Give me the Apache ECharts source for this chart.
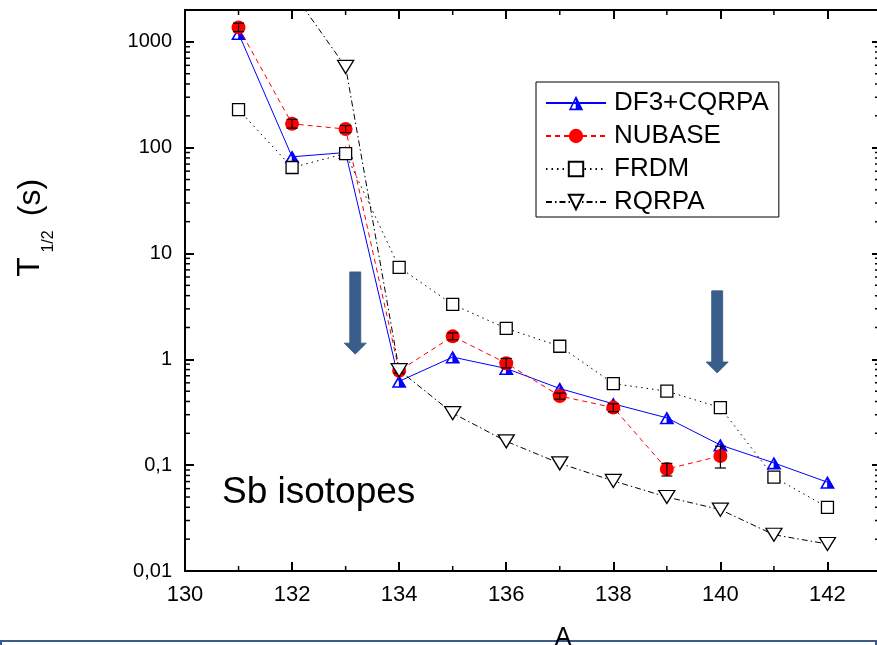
<!DOCTYPE html>
<html>
<head>
<meta charset="utf-8">
<script src="https://cdn.jsdelivr.net/npm/echarts@6/dist/echarts.min.js"></script>
<style>
  html, body { margin: 0; padding: 0; background: #ffffff; }
  #chart { width: 877px; height: 645px; }
</style>
</head>
<body>
<div id="chart"></div>
<script>
// Half-lives of Sb isotopes versus mass number A
const massNumbers = [131, 132, 133, 134, 135, 136, 137, 138, 139, 140, 141, 142];
const df3Cqrpa    = [1200, 82, 90, 0.62, 1.05, 0.82, 0.53, 0.38, 0.28, 0.155, 0.105, 0.069];
const nubaseA     = [131, 132, 133, 134, 135, 136, 137, 138, 139, 140];
const nubase      = [1370, 168, 150, 0.78, 1.65, 0.92, 0.45, 0.35, 0.092, 0.122];
const nubaseLow   = [1250, 153, 139, 0.74, 1.53, 0.83, 0.42, 0.32, 0.079, 0.094];
const nubaseHigh  = [1500, 185, 162, 0.82, 1.78, 1.02, 0.48, 0.38, 0.104, 0.151];
const frdm        = [229, 65, 88, 7.4, 3.3, 1.96, 1.33, 0.59, 0.50, 0.35, 0.077, 0.040];
const rqrpa       = [6000, 3000, 580, 0.79, 0.31, 0.168, 0.104, 0.071, 0.050, 0.038, 0.022, 0.018];

const seriesNames = ['DF3+CQRPA', 'NUBASE', 'FRDM', 'RQRPA'];

// axis ranges and tick labels
const xMin = 130, xMax = 143;
const yMin = 0.01, yMax = 2000;
const xTickLabels = [130, 132, 134, 136, 138, 140, 142];
const yTickLabels = ['0,01', '0,1', '1', '10', '100', '1000'];
const decades = [0.01, 0.1, 1, 10, 100, 1000];
const minorMultipliers = [2, 3, 4, 5, 6, 7, 8, 9];
const oddMass = [131, 133, 135, 137, 139, 141];

// downward arrows marking A = 133 and A = 140
const arrowX    = [133.18, 139.94];
const arrowFrom = [6.7, 4.44];
const arrowTo   = [1.12, 0.743];

const FONT = '"Liberation Sans", Arial, Helvetica, sans-serif';

const pairs = (xs, ys) => xs.map((x, i) => [x, ys[i]]);

const minorY = [];
decades.forEach(d => minorMultipliers.forEach(m => {
  const v = d * m;
  if (v < yMax) minorY.push(v);
}));

// half-filled triangle: outline on the left half, solid right half
const halfTriangle = 'path://M50,0 L100,100 L0,100 Z M48,28 L18,88 L48,88 Z';

const chart = echarts.init(document.getElementById('chart'), null, { renderer: 'canvas' });

const axisLine = { show: true, lineStyle: { color: '#000', width: 2 } };

chart.setOption({
  animation: false,
  backgroundColor: '#ffffff',
  grid: { left: 185, right: -4, top: 10, bottom: 74, outerBoundsMode: 'none' },
  legend: {
    orient: 'vertical',
    left: 536,
    top: 82,
    padding: [8, 10, 2, 9],
    itemWidth: 60,
    itemHeight: 18,
    itemGap: 7,
    borderColor: '#000',
    borderWidth: 1,
    selectedMode: false,
    textStyle: { fontFamily: FONT, fontSize: 26, color: '#000', padding: [0, 0, 0, 3] },
    data: seriesNames
  },
  xAxis: [
    {
      type: 'value', min: xMin, max: xMax, interval: 2,
      axisLine: axisLine,
      axisTick: { show: true, inside: true, length: 9, lineStyle: { color: '#000', width: 2 } },
      splitLine: { show: false },
      axisLabel: {
        show: true, margin: 13, color: '#000', fontFamily: FONT, fontSize: 22,
        formatter: v => (xTickLabels.indexOf(Math.round(v)) >= 0 && Math.abs(v - Math.round(v)) < 1e-6) ? String(Math.round(v)) : ''
      }
    },
    {
      type: 'value', position: 'top', min: xMin, max: xMax, interval: 2,
      axisLine: axisLine,
      axisTick: { show: true, inside: true, length: 9, lineStyle: { color: '#000', width: 2 } },
      splitLine: { show: false },
      axisLabel: { show: false }
    }
  ],
  yAxis: [
    {
      type: 'log', logBase: 10, min: yMin, max: yMax,
      axisLine: axisLine,
      axisTick: { show: true, inside: true, length: 9, lineStyle: { color: '#000', width: 2 } },
      splitLine: { show: false },
      axisLabel: {
        show: true, margin: 13, color: '#000', fontFamily: FONT, fontSize: 20,
        formatter: v => {
          const e = Math.log10(v);
          const r = Math.round(e);
          return Math.abs(e - r) < 1e-6 ? (yTickLabels[r + 2] || '') : '';
        }
      }
    },
    {
      type: 'log', logBase: 10, min: yMin, max: yMax, position: 'right',
      axisLine: axisLine,
      axisTick: { show: true, inside: true, length: 9, lineStyle: { color: '#000', width: 2 } },
      splitLine: { show: false },
      axisLabel: { show: false }
    }
  ],
  series: [
    {
      name: 'DF3+CQRPA', type: 'line',
      data: pairs(massNumbers, df3Cqrpa),
      symbol: halfTriangle, symbolSize: [15, 13],
      lineStyle: { color: '#0000ff', width: 1, type: 'solid' },
      itemStyle: { color: '#0000ff', borderWidth: 0 },
      z: 2
    },
    {
      name: 'NUBASE', type: 'line',
      data: pairs(nubaseA, nubase),
      symbol: 'circle', symbolSize: 14,
      lineStyle: { color: '#ff0000', width: 1, type: [5, 4] },
      itemStyle: { color: '#ff0000', borderWidth: 0 },
      z: 3
    },
    {
      name: 'NUBASE errors', type: 'custom',
      data: nubaseA.map((a, i) => [a, nubaseLow[i], nubaseHigh[i]]),
      encode: { x: 0, y: [1, 2] },
      silent: true,
      z: 4,
      renderItem: (params, api) => {
        const lo = api.coord([api.value(0), api.value(1)]);
        const hi = api.coord([api.value(0), api.value(2)]);
        const cap = 5.5;
        const st = { stroke: '#000', lineWidth: 1.2 };
        return {
          type: 'group',
          children: [
            { type: 'line', shape: { x1: lo[0], y1: lo[1], x2: hi[0], y2: hi[1] }, style: st },
            { type: 'line', shape: { x1: lo[0] - cap, y1: lo[1], x2: lo[0] + cap, y2: lo[1] }, style: st },
            { type: 'line', shape: { x1: hi[0] - cap, y1: hi[1], x2: hi[0] + cap, y2: hi[1] }, style: st }
          ]
        };
      }
    },
    {
      name: 'FRDM', type: 'line',
      data: pairs(massNumbers, frdm),
      symbol: 'rect', symbolSize: 12,
      lineStyle: { color: '#000', width: 1, type: [1.5, 4] },
      itemStyle: { color: '#ffffff', borderColor: '#000', borderWidth: 1.3 },
      z: 5
    },
    {
      name: 'RQRPA', type: 'line',
      data: pairs(massNumbers, rqrpa),
      symbol: 'triangle', symbolSize: [16, 13], symbolRotate: 180,
      lineStyle: { color: '#000', width: 1, type: [6, 3, 1.5, 3] },
      itemStyle: { color: '#ffffff', borderColor: '#000', borderWidth: 1.3 },
      z: 6
    },
    {
      name: 'minor y ticks', type: 'custom',
      data: minorY.map(v => [xMin, v]),
      encode: { x: 0, y: 1 },
      silent: true, clip: false, z: 7,
      renderItem: (params, api) => {
        const l = api.coord([xMin, api.value(1)]);
        const r = api.coord([xMax, api.value(1)]);
        const st = { stroke: '#000', lineWidth: 1.5 };
        return {
          type: 'group',
          children: [
            { type: 'line', shape: { x1: l[0], y1: l[1], x2: l[0] + 5, y2: l[1] }, style: st },
            { type: 'line', shape: { x1: r[0] - 6, y1: r[1], x2: r[0], y2: r[1] }, style: st }
          ]
        };
      }
    },
    {
      name: 'minor x ticks', type: 'custom',
      data: oddMass.map(a => [a, yMin]),
      encode: { x: 0, y: 1 },
      silent: true, clip: false, z: 7,
      renderItem: (params, api) => {
        const b = api.coord([api.value(0), yMin]);
        const t = api.coord([api.value(0), yMax]);
        const st = { stroke: '#000', lineWidth: 1.5 };
        return {
          type: 'group',
          children: [
            { type: 'line', shape: { x1: b[0], y1: b[1], x2: b[0], y2: b[1] - 5 }, style: st },
            { type: 'line', shape: { x1: t[0], y1: t[1], x2: t[0], y2: t[1] + 5 }, style: st }
          ]
        };
      }
    },
    {
      name: 'arrows', type: 'custom',
      data: arrowX.map((x, i) => [x, arrowFrom[i], arrowTo[i]]),
      encode: { x: 0, y: [1, 2] },
      silent: true, z: 8,
      renderItem: (params, api) => {
        const top = api.coord([api.value(0), api.value(1)]);
        const tip = api.coord([api.value(0), api.value(2)]);
        const cx = tip[0];
        const sw = 5.5, hw = 11, hl = 11;
        const neck = tip[1] - hl;
        return {
          type: 'polygon',
          shape: {
            points: [
              [cx - sw, top[1]], [cx + sw, top[1]], [cx + sw, neck], [cx + hw, neck],
              [cx, tip[1]], [cx - hw, neck], [cx - sw, neck]
            ]
          },
          style: { fill: '#3a5e8c', stroke: '#34557f', lineWidth: 0.8 }
        };
      }
    }
  ],
  graphic: [
    {
      type: 'rect', z: 100,
      shape: { x: 1, y: 641, width: 875, height: 30 },
      style: { fill: '#ffffff', stroke: '#3a5a88', lineWidth: 2 }
    },
    {
      type: 'text', z: 101, x: 563, y: 638,
      style: { text: 'A', fontFamily: FONT, fontSize: 25, fill: '#000', align: 'center', verticalAlign: 'middle' }
    },
    {
      type: 'text', z: 101, x: 222, y: 493,
      style: { text: 'Sb isotopes', fontFamily: FONT, fontSize: 37, fill: '#000', align: 'left', verticalAlign: 'middle' }
    },
    {
      type: 'text', z: 101, x: 30, y: 267, rotation: Math.PI / 2,
      style: { text: 'T', fontFamily: FONT, fontSize: 32, fill: '#000', align: 'center', verticalAlign: 'middle' }
    },
    {
      type: 'text', z: 101, x: 49, y: 241.5, rotation: Math.PI / 2,
      style: { text: '1/2', fontFamily: FONT, fontSize: 16, fill: '#000', align: 'center', verticalAlign: 'middle' }
    },
    {
      type: 'text', z: 101, x: 31, y: 197.5, rotation: Math.PI / 2,
      style: { text: '(s)', fontFamily: FONT, fontSize: 32, fill: '#000', align: 'center', verticalAlign: 'middle' }
    }
  ]
});
</script>
</body>
</html>
